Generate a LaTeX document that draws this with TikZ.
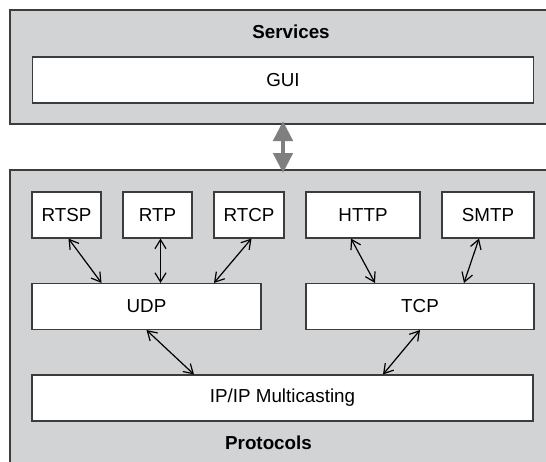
\documentclass[tikz,border=0pt]{standalone}
\usepackage{fontspec}
\setmainfont{Liberation Sans}
\usetikzlibrary{arrows.meta}
\definecolor{panelgray}{HTML}{D1D3D4}
\definecolor{edgegray}{HTML}{3C3C3C}
\definecolor{pipegray}{HTML}{7F7F7F}
\tikzset{
  panel/.style={draw=edgegray, line width=1.1pt, fill=panelgray},
  proto/.style={draw=edgegray, line width=1.1pt, fill=white, inner sep=0pt, minimum height=46,
    font=\fontsize{18.8}{22}\selectfont},
  title/.style={inner sep=0pt, font=\fontsize{18.8}{22}\selectfont\bfseries},
  link/.style={{Straight Barb[length=9pt,width=11pt]}-{Straight Barb[length=9pt,width=11pt]}, line width=1.2pt, black}
}
\begin{document}
\begin{tikzpicture}[x=1pt,y=-1pt]
\clip (0,0) rectangle (546,461);
\fill[white] (0,0) rectangle (546,461);

% the two layers
\draw[panel] (10,10) rectangle (575,124);
\draw[panel] (10,170) rectangle (575,475);
\coordinate (servbottom) at (283,124);
\coordinate (prottop) at (283,170);

\node[title] (services) at (291,32) {Services};
\node[proto, minimum width=501] (gui) at (283,80) {GUI};

\node[title] (protocols) at (268.5,443) {Protocols};

% application protocols
\node[proto, minimum width=69] (rtsp) at (66.5,215) {RTSP};
\node[proto, minimum width=69] (rtp) at (157.5,215) {RTP};
\node[proto, minimum width=70] (rtcp) at (249,215) {RTCP};
\node[proto, minimum width=114] (http) at (363,215) {HTTP};
\node[proto, minimum width=92] (smtp) at (488,215) {SMTP};

% transport
\node[proto, minimum width=229] (udp) at (146.5,306.5) {UDP};
\node[proto, minimum width=228] (tcp) at (420,306.5) {TCP};

\node[proto, minimum width=501] (ip) at (282.5,398) {IP/IP Multicasting};

% connectors
\draw[pipegray, line width=4.5pt, {Triangle[length=20pt,width=19pt]}-{Triangle[length=20pt,width=19pt]},
  shorten <=-3pt, shorten >=-3pt] (servbottom) -- (prottop);

\draw[link] ([xshift=2]rtsp.south) -- ([xshift=-45]udp.north);
\draw[link] ([xshift=3]rtp.south) -- ([xshift=14]udp.north);
\draw[link] ([xshift=2.5]rtcp.south) -- ([xshift=67.5]udp.north);
\draw[link] ([xshift=-12]http.south) -- ([xshift=-45]tcp.north);
\draw[link] ([xshift=-9]smtp.south) -- ([xshift=44]tcp.north);
\draw[link] (udp.south) -- ([xshift=-88.5]ip.north);
\draw[link] (tcp.south) -- ([xshift=100.5]ip.north);

\end{tikzpicture}
\end{document}
